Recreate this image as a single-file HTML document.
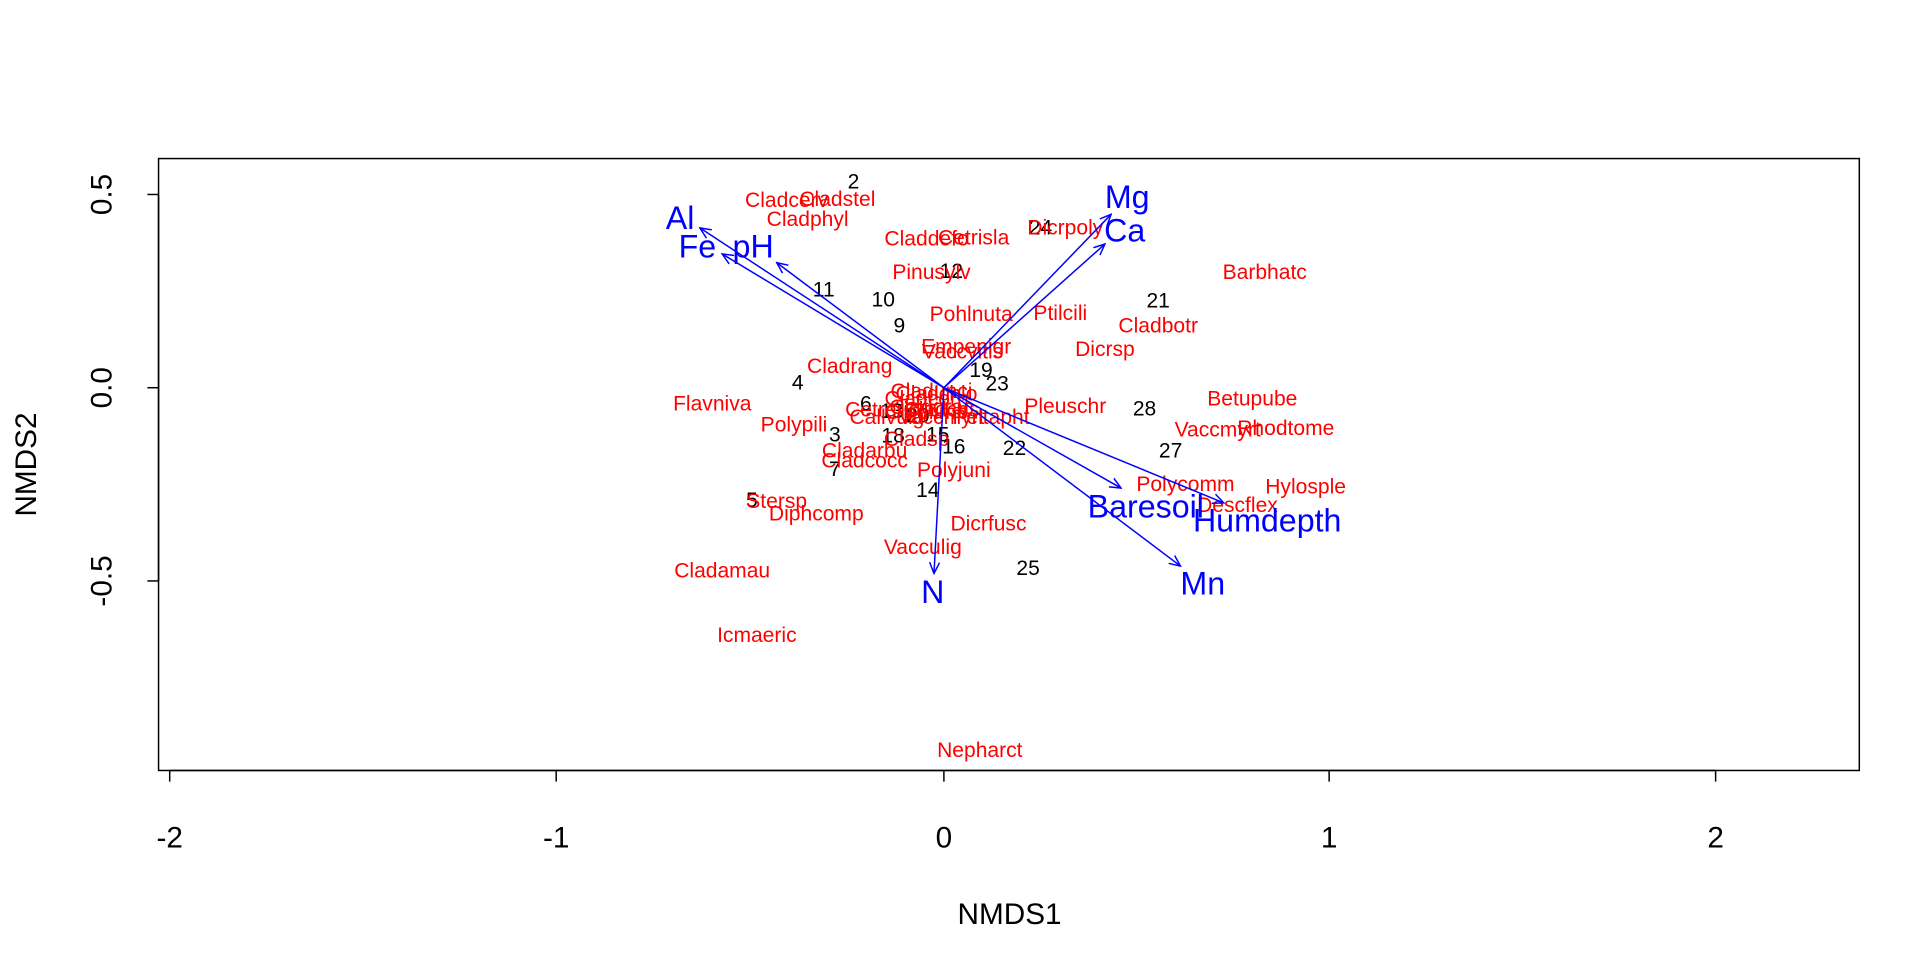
<!DOCTYPE html>
<html><head><meta charset="utf-8"><style>
html,body{margin:0;padding:0;background:#fff;}
svg{display:block;}
text{font-family:"Liberation Sans",Arial,sans-serif;}
.r{fill:#f00;font-size:17px;}
.k{fill:#000;font-size:17px;}
.b{fill:#00f;font-size:26px;}
.t{fill:#000;font-size:24px;}
</style></head><body>
<svg width="1920" height="960" viewBox="0 0 1550 775" xmlns="http://www.w3.org/2000/svg">
<defs><marker id="a" markerWidth="10" markerHeight="10" refX="9" refY="5" orient="auto" markerUnits="userSpaceOnUse"><path d="M0,1 L9,5 L0,9" fill="none" stroke="#00f" stroke-width="1.2"/></marker></defs>
<rect x="128" y="128" width="1373" height="494" fill="none" stroke="#000" stroke-width="1.2"/>
<g stroke="#000" stroke-width="1.2">
<line x1="137" y1="622" x2="1385" y2="622"/>
<line x1="137" y1="622" x2="137" y2="631"/><line x1="449" y1="622" x2="449" y2="631"/><line x1="762" y1="622" x2="762" y2="631"/><line x1="1073" y1="622" x2="1073" y2="631"/><line x1="1385" y1="622" x2="1385" y2="631"/>
<line x1="128" y1="157" x2="128" y2="469"/>
<line x1="119" y1="157" x2="128" y2="157"/><line x1="119" y1="313" x2="128" y2="313"/><line x1="119" y1="469" x2="128" y2="469"/>
</g>
<g class="t" text-anchor="middle">
<text x="137" y="684">-2</text><text x="449" y="684">-1</text><text x="762" y="684">0</text><text x="1073" y="684">1</text><text x="1385" y="684">2</text>
<text transform="translate(90,157) rotate(-90)">0.5</text>
<text transform="translate(90,313) rotate(-90)">0.0</text>
<text transform="translate(90,469) rotate(-90)">-0.5</text>
<text x="815" y="746">NMDS1</text>
<text transform="translate(29,375) rotate(-90)">NMDS2</text>
</g>
<g class="k" text-anchor="middle" dominant-baseline="central">
<text x="689" y="147">2</text><text x="840" y="184">24</text><text x="768" y="219">12</text><text x="665" y="234">11</text><text x="713" y="242">10</text><text x="935" y="243">21</text><text x="726" y="263">9</text><text x="792" y="299">19</text><text x="805" y="310">23</text><text x="644" y="309">4</text><text x="699" y="326">6</text><text x="924" y="330">28</text><text x="674" y="351">3</text><text x="721" y="352">18</text><text x="757" y="351">15</text><text x="770" y="361">16</text><text x="819" y="362">22</text><text x="945" y="364">27</text><text x="674" y="379">7</text><text x="749" y="396">14</text><text x="607" y="404">5</text><text x="830" y="459">25</text><text x="720" y="332">13</text><text x="741" y="336">20</text>
</g>
<g class="r" text-anchor="middle" dominant-baseline="central">
<text x="635" y="162">Cladcerv</text><text x="676" y="161">Cladstel</text><text x="652" y="177">Cladphyl</text><text x="748" y="193">Claddefo</text><text x="786" y="192">Cetrisla</text><text x="860" y="184">Dicrpoly</text><text x="752" y="220">Pinusylv</text><text x="1021" y="220">Barbhatc</text><text x="784" y="254">Pohlnuta</text><text x="856" y="253">Ptilcili</text><text x="935" y="263">Cladbotr</text><text x="780" y="280">Empenigr</text><text x="777" y="284">Vaccvitis</text><text x="892" y="282">Dicrsp</text><text x="686" y="296">Cladrang</text><text x="575" y="326">Flavniva</text><text x="860" y="328">Pleuschr</text><text x="1011" y="322">Betupube</text><text x="641" y="343">Polypili</text><text x="983" y="347">Vaccmyrt</text><text x="1038" y="346">Rhodtome</text><text x="698" y="364">Cladarbu</text><text x="698" y="372">Cladcocc</text><text x="740" y="355">Cladsp</text><text x="770" y="380">Polyjuni</text><text x="957" y="391">Polycomm</text><text x="1054" y="393">Hylosple</text><text x="627" y="405">Stersp</text><text x="999" y="408">Descflex</text><text x="659" y="415">Diphcomp</text><text x="798" y="423">Dicrfusc</text><text x="745" y="442">Vacculig</text><text x="583" y="461">Cladamau</text><text x="611" y="513">Icmaeric</text><text x="791" y="606">Nepharct</text>
<text x="752" y="316">Cladunci</text><text x="756" y="318">Cladchlo</text><text x="748" y="322">Cladcorn</text><text x="752" y="329">Cladgrac</text><text x="712" y="331">Cetreric</text><text x="716" y="337">Callvulg</text><text x="748" y="333">Cladfimb</text><text x="760" y="331">Cladcris</text><text x="800" y="337">Peltapht</text><text x="760" y="337">Vaccmyrt</text>
</g>
<g stroke="#00f" stroke-width="1.2" marker-end="url(#a)">
<line x1="762" y1="313" x2="565" y2="184"/><line x1="762" y1="313" x2="583" y2="205"/><line x1="762" y1="313" x2="627" y2="212"/><line x1="762" y1="313" x2="897" y2="173"/><line x1="762" y1="313" x2="892" y2="197"/><line x1="762" y1="313" x2="905" y2="394"/><line x1="762" y1="313" x2="988" y2="406"/><line x1="762" y1="313" x2="953" y2="457"/><line x1="762" y1="313" x2="754" y2="463"/>
</g>
<g class="b" text-anchor="middle" dominant-baseline="central">
<text x="549" y="176">Al</text><text x="563" y="199">Fe</text><text x="608" y="199">pH</text><text x="910" y="159">Mg</text><text x="908" y="186">Ca</text><text x="925" y="409">Baresoil</text><text x="1023" y="420">Humdepth</text><text x="971" y="471">Mn</text><text x="753" y="478">N</text>
</g>
</svg>
</body></html>
